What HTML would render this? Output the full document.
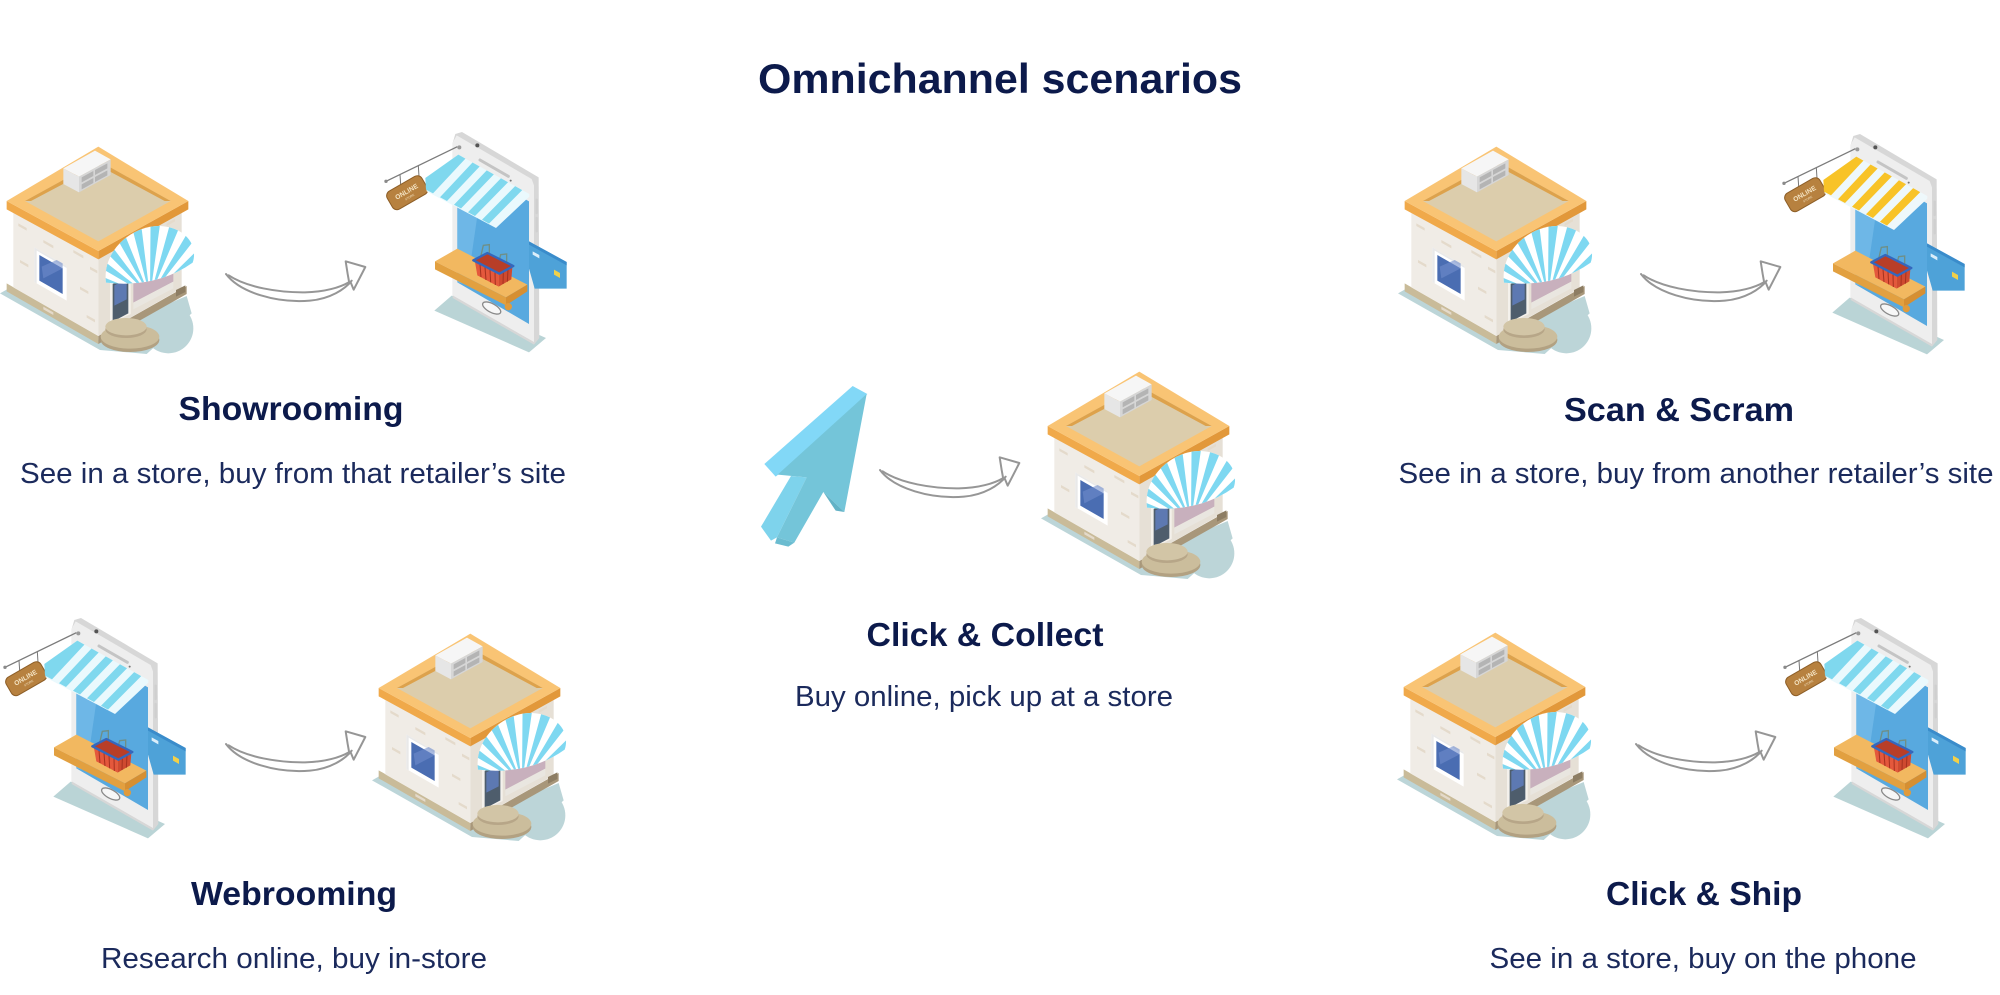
<!DOCTYPE html>
<html>
<head>
<meta charset="utf-8">
<style>
  html,body{margin:0;padding:0;background:#ffffff;}
  body{width:2000px;height:995px;overflow:hidden;}
  svg{display:block;}
  .t{font-family:"Liberation Sans",Arial,sans-serif;}
</style>
</head>
<body>
<svg width="2000" height="995" viewBox="0 0 2000 995" xmlns="http://www.w3.org/2000/svg">
<defs>
  <clipPath id="domeClip">
    <path d="M318,428 C305,330 400,255 480,258 C560,262 595,320 578,368 Q470,445 318,428 Z"/>
  </clipPath>
  <g id="store">
    <polygon points="0,460 25,446 300,602 470,506 560,468 575,520 440,642 300,630" fill="#bcd5d8"/>
    <circle cx="505" cy="565" r="75" fill="#bcd5d8"/>
    <polygon points="20,430 295,588 295,612 20,454" fill="#c9bb99"/>
    <polygon points="295,588 560,438 560,462 295,612" fill="#a8977a"/>
    <polygon points="40,200 295,350 295,588 40,442" fill="#f0ece6"/>
    <polygon points="295,350 545,205 545,445 295,588" fill="#e6e0d6"/>
    <g fill="#e4dacb">
      <polygon points="55,250 80,264 80,272 55,258"/>
      <polygon points="130,300 160,317 160,325 130,308"/>
      <polygon points="60,360 85,374 85,382 60,368"/>
      <polygon points="220,330 250,347 250,355 220,338"/>
      <polygon points="240,440 265,454 265,462 240,448"/>
      <polygon points="130,500 160,517 160,525 130,508"/>
      <polygon points="260,525 285,539 285,547 260,533"/>
      <polygon points="270,380 292,392 292,400 270,388"/>
      <polygon points="500,250 525,236 525,244 500,258"/>
    </g>
    <polygon points="20,183 295,333 295,358 20,208" fill="#f0a94a"/>
    <polygon points="295,333 565,183 565,208 295,358" fill="#e2983a"/>
    <polygon points="295,20 565,183 295,333 20,183" fill="#f9c474"/>
    <polygon points="295,62 512,183 295,304 75,183" fill="#dccdac"/>
    <polygon points="75,183 295,62 512,183 494,183 295,76 93,183" fill="#dda24c"/>
    <polygon points="190,85 285,32 332,58 237,110" fill="#f6f6f6"/>
    <polygon points="190,85 237,110 237,157 190,132" fill="#e6e6e6"/>
    <polygon points="237,110 332,58 332,105 237,157" fill="#d6d6d6"/>
    <g fill="#b4b4b4">
      <polygon points="245,112 280,93 280,108 245,127"/>
      <polygon points="285,90 322,70 322,85 285,105"/>
      <polygon points="245,133 280,114 280,129 245,148"/>
      <polygon points="285,111 322,91 322,106 285,126"/>
    </g>
    <polygon points="103,322 200,378 200,482 103,426" fill="#ffffff"/>
    <polygon points="103,322 200,378 200,384 110,332 110,430 103,426" fill="#e9e9e9"/>
    <polygon points="118,345 188,385 188,462 118,422" fill="#4a6db2"/>
    <polygon points="125,380 170,360 188,370 188,385 130,415" fill="#6f8ccc" opacity="0.6"/>
    <polygon points="400,420 520,355 520,425 400,488" fill="#c8b0bd"/>
    <polygon points="400,488 520,425 520,445 400,508" fill="#e9e6e0"/>
    <polygon points="330,428 392,400 392,522 330,552" fill="#f4f1ec"/>
    <polygon points="338,432 385,408 385,520 338,545" fill="#4e5d6c"/>
    <polygon points="343,436 380,417 380,478 343,497" fill="#5d79b2"/>
    <polygon points="528,450 556,436 556,456 528,470" fill="#8d7d63"/>
    <g clip-path="url(#domeClip)">
      <rect x="300" y="240" width="300" height="220" fill="#ffffff"/>
      <circle cx="450" cy="470" r="150" fill="none" stroke="#7ed8f1" stroke-width="300" stroke-dasharray="19.635 19.635"/>
    </g>
    <ellipse cx="390" cy="600" rx="88" ry="36" fill="#b2a182"/>
    <ellipse cx="390" cy="590" rx="88" ry="36" fill="#cbbd9c"/>
    <ellipse cx="378" cy="568" rx="62" ry="26" fill="#b7a688"/>
    <ellipse cx="378" cy="560" rx="62" ry="26" fill="#d2c5a6"/>
  </g>

  <g id="phoneBody">
    <polygon points="163,548 215,503 498,630 447,673" fill="#bad4d6"/>
    <polygon points="218,45 226,18 246,12 476,148 478,630 462,650 218,510" fill="#d7d7d7"/>
    <polygon points="218,44 230,22 455,153 462,172 462,642 218,502" fill="#eeeeee"/>
    <polygon points="232,95 447,220 447,588 232,463" fill="#58a9df"/>
    <polygon points="232,95 310,140 262,470 232,463" fill="#74bae8" opacity="0.8"/>
    <line x1="300" y1="96" x2="385" y2="145" stroke="#c4c4c4" stroke-width="9" stroke-linecap="round"/>
    <circle cx="292" cy="52" r="6" fill="#555"/>
    <circle cx="392" cy="158" r="3" fill="#777"/>
    <line x1="470" y1="215" x2="470" y2="255" stroke="#cfcfcf" stroke-width="7" stroke-linecap="round"/>
    <line x1="470" y1="270" x2="470" y2="310" stroke="#cfcfcf" stroke-width="7" stroke-linecap="round"/>
    <ellipse cx="335" cy="540" rx="30" ry="13" transform="rotate(28 335 540)" fill="#f7f7f7" stroke="#8a8a8a" stroke-width="4"/>
    <polygon points="165,400 232,362 442,470 378,508" fill="#f2b860"/>
    <polygon points="165,400 378,508 378,532 165,424" fill="#e2a040"/>
    <polygon points="378,508 442,470 442,490 378,532" fill="#d68f32"/>
    <circle cx="385" cy="536" r="11" fill="#e09b3c"/>
    <path d="M300,395 L310,352 L328,350 L328,385" fill="none" stroke="#6f8f86" stroke-width="4"/>
    <path d="M352,420 L362,380 L380,378 L380,412" fill="none" stroke="#6f8f86" stroke-width="4"/>
    <polygon points="282,398 322,377 398,415 358,436" fill="#b83e28"/>
    <polygon points="285,402 356,440 356,476 292,442" fill="#e4583c"/>
    <polygon points="356,440 397,418 394,454 356,476" fill="#cf4a30"/>
    <g stroke="#a5321f" stroke-width="3">
      <line x1="300" y1="410" x2="303" y2="447"/>
      <line x1="315" y1="418" x2="318" y2="456"/>
      <line x1="330" y1="426" x2="332" y2="463"/>
      <line x1="345" y1="434" x2="346" y2="471"/>
      <line x1="370" y1="433" x2="369" y2="468"/>
      <line x1="384" y1="425" x2="382" y2="461"/>
    </g>
    <polygon points="280,397 322,375 400,414 358,437" fill="none" stroke="#3467bd" stroke-width="7" stroke-linejoin="round"/>
    <polygon points="447,340 560,402 560,482 464,482 447,422" fill="#4ea2d8"/>
    <polygon points="447,340 560,402 560,412 447,350" fill="#3a8ccb"/>
    <polygon points="522,425 540,435 540,450 522,440" fill="#f1d04a"/>
    <polygon points="458,370 478,381 478,391 458,380" fill="#dbeefa"/>
    <line x1="18" y1="160" x2="232" y2="56" stroke="#7b7b7b" stroke-width="4"/>
    <circle cx="18" cy="160" r="5" fill="#8a8a8a"/>
    <circle cx="238" cy="58" r="6" fill="#9a9a9a"/>
    <line x1="115" y1="113" x2="117" y2="145" stroke="#777" stroke-width="3"/>
    <line x1="60" y1="139" x2="62" y2="170" stroke="#777" stroke-width="3"/>
    <g transform="rotate(-30 82 195)">
      <rect x="22" y="163" width="120" height="62" rx="16" fill="#b7813f" stroke="#8d5e27" stroke-width="3"/>
      <text x="82" y="197" text-anchor="middle" class="t" font-size="20" font-weight="bold" fill="#f4e4c4">ONLINE</text>
      <text x="82" y="212" text-anchor="middle" class="t" font-size="9" fill="#f4e4c4">STORE</text>
    </g>
  </g>

  <g id="awnBlue">
    <polygon points="235,80 448,198 448,206 348,300 140,190 136,150" fill="#eaf9fd"/>
    <g fill="#7fd8ee">
      <polygon points="235,80 256.3,91.8 159,196.3 138,185 136,150"/>
      <polygon points="277.6,103.6 298.9,115.4 201,218.9 180,207.6"/>
      <polygon points="320.2,127.2 341.5,139 243,241.5 222,230.2"/>
      <polygon points="362.8,150.8 384.1,162.6 285,264.1 264,252.8"/>
      <polygon points="405.4,174.4 426.7,186.2 327,286.7 306,275.4"/>
    </g>
  </g>
  <g id="awnYellow">
    <polygon points="235,80 448,198 448,206 348,300 140,190 136,150" fill="#eef8fb"/>
    <g fill="#f8c327">
      <polygon points="235,80 256.3,91.8 159,196.3 138,185 136,150"/>
      <polygon points="277.6,103.6 298.9,115.4 201,218.9 180,207.6"/>
      <polygon points="320.2,127.2 341.5,139 243,241.5 222,230.2"/>
      <polygon points="362.8,150.8 384.1,162.6 285,264.1 264,252.8"/>
      <polygon points="405.4,174.4 426.7,186.2 327,286.7 306,275.4"/>
    </g>
  </g>

  <g id="arrow" fill="none" stroke="#969696" stroke-width="6" stroke-linecap="round" stroke-linejoin="round">
    <path d="M18,72 C60,128 170,160 270,152 C330,147 375,118 395,92"/>
    <path d="M26,76 C80,112 175,128 255,127 C315,126 360,112 386,97"/>
    <path d="M388,100 L383,72 L377,34 L436,51 L401,119 L392,97"/>
  </g>
</defs>

<text x="1000" y="93" text-anchor="middle" class="t" font-size="42" font-weight="bold" fill="#0c1a4b" textLength="484" lengthAdjust="spacingAndGlyphs">Omnichannel scenarios</text>

<use href="#store" transform="translate(0,140) scale(0.33333)"/>
<use href="#arrow" transform="translate(220,250) scale(0.33333)"/>
<g transform="translate(380,128) scale(0.33333)"><use href="#phoneBody"/><use href="#awnBlue"/></g>
<text x="291" y="420" text-anchor="middle" class="t" font-size="33" font-weight="bold" fill="#0c1a4b" textLength="225" lengthAdjust="spacingAndGlyphs">Showrooming</text>
<text x="293" y="483" text-anchor="middle" class="t" font-size="29" fill="#1b2a5c" textLength="546" lengthAdjust="spacingAndGlyphs">See in a store, buy from that retailer’s site</text>

<use href="#store" transform="translate(1398,140) scale(0.33333)"/>
<use href="#arrow" transform="translate(1635,250) scale(0.33333)"/>
<g transform="translate(1778,130) scale(0.33333)"><use href="#phoneBody"/><use href="#awnYellow"/></g>
<text x="1679" y="421" text-anchor="middle" class="t" font-size="33" font-weight="bold" fill="#0c1a4b" textLength="230" lengthAdjust="spacingAndGlyphs">Scan &amp; Scram</text>
<text x="1696" y="483" text-anchor="middle" class="t" font-size="29" fill="#1b2a5c" textLength="595" lengthAdjust="spacingAndGlyphs">See in a store, buy from another retailer’s site</text>

<g transform="translate(755,380) scale(0.33333)">
  <polygon points="28,252 293,18 337,42 72,282 62,290" fill="#82d8f7"/>
  <polygon points="18,440 108,288 155,292 66,472 48,482" fill="#7ed3ec"/>
  <polygon points="335,42 268,396 205,336 118,488 66,472 155,292 68,284" fill="#74c5d9"/>
  <polygon points="205,336 268,396 242,392" fill="#63b2c6"/>
  <polygon points="66,472 118,488 100,500 60,490" fill="#6bbcd0"/>
</g>
<use href="#arrow" transform="translate(874,446) scale(0.33333)"/>
<use href="#store" transform="translate(1041,365) scale(0.33333)"/>
<text x="985" y="646" text-anchor="middle" class="t" font-size="33" font-weight="bold" fill="#0c1a4b" textLength="237" lengthAdjust="spacingAndGlyphs">Click &amp; Collect</text>
<text x="984" y="706" text-anchor="middle" class="t" font-size="29" fill="#1b2a5c" textLength="378" lengthAdjust="spacingAndGlyphs">Buy online, pick up at a store</text>

<g transform="translate(-1,614) scale(0.33333)"><use href="#phoneBody"/><use href="#awnBlue"/></g>
<use href="#arrow" transform="translate(220,720) scale(0.33333)"/>
<use href="#store" transform="translate(372,627) scale(0.33333)"/>
<text x="294" y="905" text-anchor="middle" class="t" font-size="33" font-weight="bold" fill="#0c1a4b" textLength="206" lengthAdjust="spacingAndGlyphs">Webrooming</text>
<text x="294" y="968" text-anchor="middle" class="t" font-size="29" fill="#1b2a5c" textLength="386" lengthAdjust="spacingAndGlyphs">Research online, buy in-store</text>

<use href="#store" transform="translate(1397,626) scale(0.33333)"/>
<use href="#arrow" transform="translate(1630,720) scale(0.33333)"/>
<g transform="translate(1779,614) scale(0.33333)"><use href="#phoneBody"/><use href="#awnBlue"/></g>
<text x="1704" y="905" text-anchor="middle" class="t" font-size="33" font-weight="bold" fill="#0c1a4b" textLength="196" lengthAdjust="spacingAndGlyphs">Click &amp; Ship</text>
<text x="1703" y="968" text-anchor="middle" class="t" font-size="29" fill="#1b2a5c" textLength="427" lengthAdjust="spacingAndGlyphs">See in a store, buy on the phone</text>
</svg>
</body>
</html>
